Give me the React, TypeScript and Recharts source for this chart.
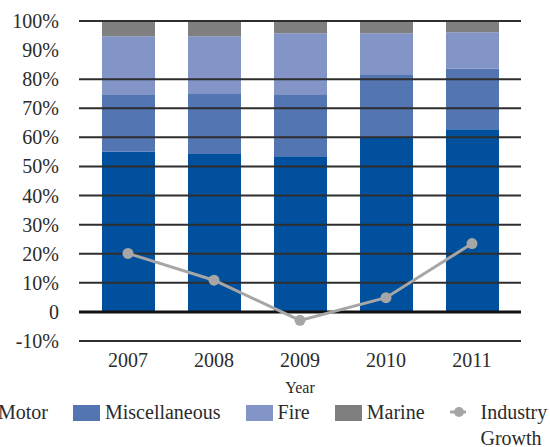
import React from 'react';
import {
  ComposedChart,
  Bar,
  Line,
  XAxis,
  YAxis,
  ReferenceLine,
  Legend,
} from 'recharts';

const years = ['2007', '2008', '2009', '2010', '2011'];
const motor = [55.1, 54.3, 53.5, 60.1, 62.8];
const miscellaneous = [19.7, 20.9, 21.3, 21.6, 20.9];
const fire = [20.0, 19.6, 21.0, 14.1, 12.4];
const marine = [5.2, 5.2, 4.2, 4.2, 3.9];
const industryGrowth = [20.1, 10.9, -2.9, 4.9, 23.5];
const yTicks = [-10, 0, 10, 20, 30, 40, 50, 60, 70, 80, 90, 100];
const gridValues = [-10, 10, 20, 30, 40, 50, 60, 70, 80, 100];

const data = years.map((year, i) => ({
  year,
  motor: motor[i],
  misc: miscellaneous[i],
  fire: fire[i],
  marine: marine[i],
  growth: industryGrowth[i],
}));

const FONT = 'serif';
const TEXT = '#2b2b2b';

const series = [
  { key: 'motor', name: 'Motor', color: '#00509E' },
  { key: 'misc', name: 'Miscellaneous', color: '#5375B2' },
  { key: 'fire', name: 'Fire', color: '#8295C6' },
  { key: 'marine', name: 'Marine', color: '#7F7F7F' },
];
const lineColor = '#A6A6A6';

const XTick = (props: any) => {
  const { x, y, payload } = props;
  return (
    <text
      x={x}
      y={y + 14}
      textAnchor="middle"
      fontFamily={FONT}
      fontSize={20}
      fill={TEXT}
    >
      {payload.value}
    </text>
  );
};

const YTick = (props: any) => {
  const { x, y, payload } = props;
  const v = payload.value;
  return (
    <text
      x={x}
      y={y + 7}
      textAnchor="end"
      fontFamily={FONT}
      fontSize={20}
      fill={TEXT}
    >
      {v === 0 ? '0' : `${v}%`}
    </text>
  );
};

const LegendContent = () => (
  <div
    style={{
      display: 'flex',
      alignItems: 'flex-start',
      fontFamily: FONT,
      fontSize: 20,
      lineHeight: '26px',
      color: TEXT,
      whiteSpace: 'nowrap',
    }}
  >
    {series.map((s) => (
      <div key={s.key} style={{ display: 'flex', alignItems: 'flex-start', marginRight: 25 }}>
        <span
          style={{
            display: 'inline-block',
            width: 27,
            height: 16,
            background: s.color,
            marginTop: 6,
            marginRight: 5,
          }}
        />
        <span>{s.name}</span>
      </div>
    ))}
    <div style={{ display: 'flex', alignItems: 'flex-start' }}>
      <svg width={26} height={26} style={{ marginRight: 5 }}>
        <line x1={0} y1={13} x2={16} y2={13} stroke={lineColor} strokeWidth={3} />
        <circle cx={9} cy={13} r={5} fill={lineColor} />
      </svg>
      <span style={{ whiteSpace: 'normal', width: 75 }}>Industry Growth</span>
    </div>
  </div>
);

export default function App() {
  return (
    <div
      style={{
        position: 'absolute',
        left: 0,
        top: 0,
        width: 550,
        height: 447,
        overflow: 'hidden',
        background: '#fff',
        fontFamily: FONT,
      }}
    >
      <ComposedChart
        width={550}
        height={447}
        data={data}
        margin={{ top: 21, right: 29, left: 0, bottom: 0 }}
      >
        <XAxis
          dataKey="year"
          axisLine={false}
          tickLine={false}
          tickSize={0}
          tickMargin={12}
          height={106}
          padding={{ left: 6, right: 6 }}
          tick={<XTick />}
          label={{
            value: 'Year',
            position: 'insideBottom',
            offset: 54,
            style: { fontFamily: FONT, fontSize: 16, fill: TEXT },
          }}
        />
        <YAxis
          width={79}
          domain={[-10, 100]}
          ticks={yTicks}
          interval={0}
          axisLine={false}
          tickLine={false}
          tickSize={0}
          tickMargin={20}
          tick={<YTick />}
        />
        {series.map((s) => (
          <Bar
            key={s.key}
            dataKey={s.key}
            name={s.name}
            stackId="share"
            fill={s.color}
            barSize={53}
            isAnimationActive={false}
          />
        ))}
        {gridValues.map((v) => (
          <ReferenceLine key={v} y={v} stroke="#2e2e2e" strokeWidth={2} />
        ))}
        <ReferenceLine y={0} stroke="#111" strokeWidth={3} />
        <Line
          dataKey="growth"
          name="Industry Growth"
          stroke={lineColor}
          strokeWidth={3}
          dot={{ r: 5.5, fill: lineColor, stroke: lineColor, strokeWidth: 0 }}
          isAnimationActive={false}
        />
        <Legend
          layout="horizontal"
          verticalAlign="middle"
          content={<LegendContent />}
          wrapperStyle={{ top: 399, left: -34, width: 700, height: 50 }}
        />
      </ComposedChart>
    </div>
  );
}
